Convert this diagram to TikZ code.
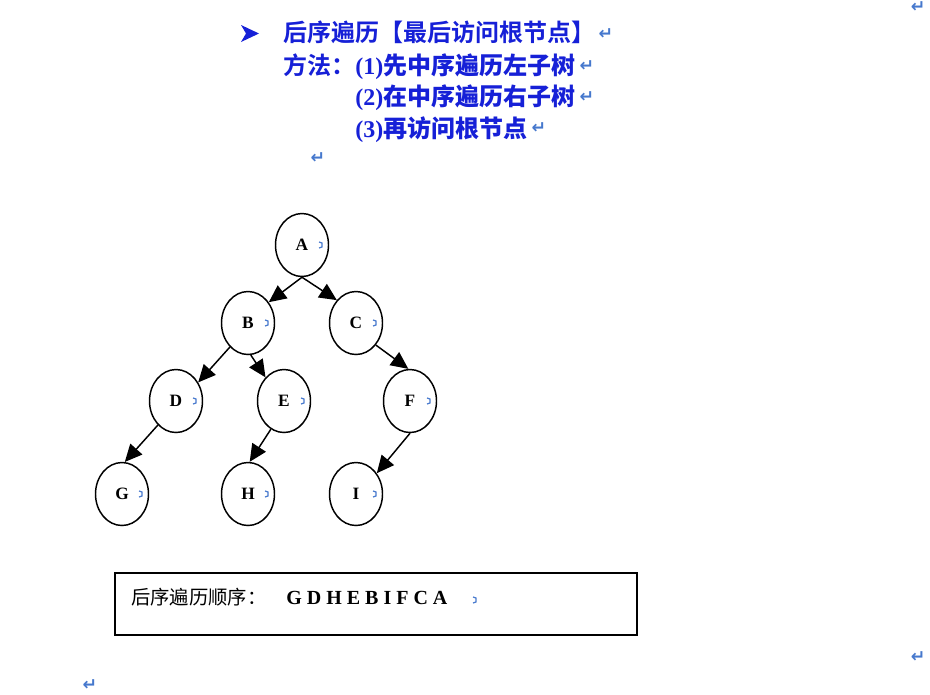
\documentclass[tikz,border=0pt]{standalone}
\usepackage{fontspec}
\setmainfont{Liberation Serif}
\newfontfamily\cjk{Noto Sans CJK SC}
\newfontfamily\cjkb{Noto Sans CJK SC Bold}
\newfontfamily\djfont{DejaVu Sans}
\usetikzlibrary{shapes.geometric,arrows.meta}
\definecolor{headblue}{RGB}{22,32,215}
\definecolor{markblue}{RGB}{70,120,205}
\tikzset{
  tn/.style={draw, ellipse, line width=1.1pt, minimum width=39.75pt, minimum height=47.25pt, inner sep=0pt, font=\fontsize{13}{14}\selectfont\bfseries},
  edge/.style={line width=1.1pt, -{Triangle[length=13pt,width=12pt]}},
  head/.style={anchor=base west, inner sep=0pt, text=headblue, font=\fontsize{18}{20}\selectfont},
  ret/.style={inner sep=0pt, text=markblue, font=\fontsize{13}{14}\selectfont\djfont\bfseries},
  cellmk/.style={draw=markblue, line width=0.9pt},
  boxst/.style={draw, line width=1.5pt, minimum width=391.5pt, minimum height=46.5pt, inner sep=0pt}
}
\begin{document}
\begin{tikzpicture}[x=0.75pt,y=-0.75pt]
\useasboundingbox (0,0) rectangle (930,694);
% bullet
\fill[headblue] (241,25) -- (259,33.5) -- (241,42) -- (246,33.5) -- cycle;
\node[head] (l1) at (283,41) {\cjkb 后序遍历【最后访问根节点】};
\node[head] (l2) at (283,74) {\cjkb 方法：};
\node[head] (l2b) at (355,74) {\bfseries (1)\cjkb 先中序遍历左子树};
\node[head] (l3) at (355,105) {\bfseries (2)\cjkb 在中序遍历右子树};
\node[head] (l4) at (355,137) {\bfseries (3)\cjkb 再访问根节点};
% return marks
\node[ret] (r1) at (606,34) {↵};
\node[ret] (r2) at (587,66) {↵};
\node[ret] (r3) at (587,97) {↵};
\node[ret] (r4) at (539,128) {↵};
\node[ret] (r5) at (318,158) {↵};
\node[ret] (r6) at (918,7) {↵};
\node[ret] (r7) at (918,657) {↵};
\node[ret] (r8) at (90,685) {↵};
% tree
\node[tn] (A) at (302,245) {A};
\node[tn] (B) at (248,323) {B};
\node[tn] (C) at (356,323) {C};
\node[tn] (D) at (176,401) {D};
\node[tn] (E) at (284,401) {E};
\node[tn] (F) at (410,401) {F};
\node[tn] (G) at (122,494) {G};
\node[tn] (H) at (248,494) {H};
\node[tn] (I) at (356,494) {I};
\foreach \n in {A,B,C,D,E,F,G,H,I}{
  \draw[cellmk] ([shift={(17,3)}]\n.center) -- ++(3,-1) -- ++(0,-4) -- ++(-3,-1);
}
\draw[edge] (A.south) -- (B.45);
\draw[edge] (A.south) -- (C.130);
\draw[edge] (B.233) -- (D.40);
\draw[edge] (B.275) -- (E.128);
\draw[edge] (C.312) -- (F.93);
\draw[edge] (D.233) -- (G.85);
\draw[edge] (E.245) -- (H.87);
\draw[edge] (F.270) -- (I.45);
% result box
\node[boxst] (box) at (376,604) {};
\node[anchor=base west, inner sep=0pt, font=\fontsize{14.5}{16}\selectfont\cjk] (lab) at (131,604) {后序遍历顺序：};
\node[anchor=base west, inner sep=0pt, font=\fontsize{15}{16}\selectfont\bfseries] (seq) at (286,604) {G D H E B I F C A};
\draw[cellmk] (473,603) -- ++(3,-1) -- ++(0,-4) -- ++(-3,-1);
\end{tikzpicture}
\end{document}
